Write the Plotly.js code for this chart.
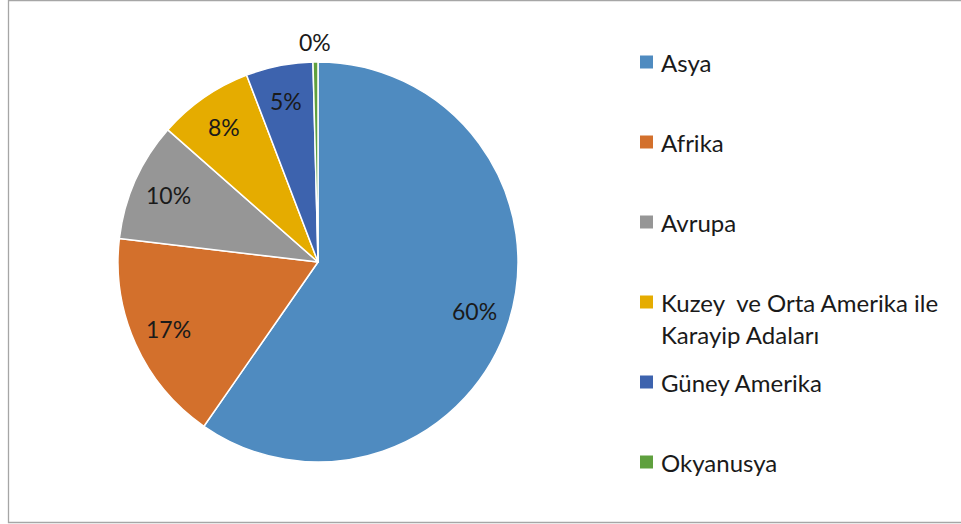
<!DOCTYPE html>
<html>
<head>
<meta charset="utf-8">
<script src="https://cdn.plot.ly/plotly-3.0.1.min.js"></script>
<style>
html,body{margin:0;padding:0;background:#fff;}
#chart{width:961px;height:524px;}
</style>
</head>
<body>
<div id="chart"></div>
<script>
const categories = ["Asya", "Afrika", "Avrupa", "Kuzey  ve Orta Amerika ile<br>Karayip Adaları", "Güney Amerika", "Okyanusya"];
const shares = [59.6, 17.2, 9.6, 7.7, 5.4, 0.4];
const colors = ["#4F8BC0", "#D3702C", "#969696", "#E5AC00", "#3D63AE", "#5FA03E"];
const labelOutside = [false, false, false, false, false, true];

const W = 961, H = 524;
const fontFam = "Lato, 'Open Sans', sans-serif";
const pieCx = 318, pieCy = 262, pieR = 200;

const trace = {
  type: "pie",
  labels: categories,
  values: shares,
  sort: false,
  direction: "clockwise",
  rotation: 0,
  marker: { colors: colors, line: { color: "#FFFFFF", width: 1.5 } },
  textinfo: "none",
  showlegend: false,
  hoverinfo: "label+percent",
  domain: { x: [(pieCx - pieR) / W, (pieCx + pieR) / W], y: [(H - pieCy - pieR) / H, (H - pieCy + pieR) / H] }
};

const shapes = [{
  type: "rect", xref: "paper", yref: "paper",
  x0: 8.5 / W, x1: 1.2, y0: 1.5 / H, y1: 1 - 0.5 / H,
  line: { color: "#A6A6A6", width: 1.3 }, fillcolor: "rgba(0,0,0,0)"
}];
const annotations = [];

// data labels (percent), placed Office-style along each slice's mid-angle
const total = shares.reduce((a, b) => a + b, 0);
let cum = 0;
shares.forEach((v, i) => {
  const frac = v / total;
  const mid = (cum + frac / 2) * 2 * Math.PI;
  cum += frac;
  const r = pieR * (labelOutside[i] ? 1.1 : 0.82);
  const px = pieCx + r * Math.sin(mid);
  const py = pieCy - r * Math.cos(mid);
  annotations.push({
    xref: "paper", yref: "paper", x: px / W, y: 1 - py / H,
    xanchor: "center", yanchor: "middle", showarrow: false,
    text: Math.round(frac * 100) + "%",
    font: { family: fontFam, size: 23, color: "#1a1a1a" }
  });
});

// legend built from categories/colors
const legX = 640, legTextX = 659, legY0 = 62, legStep = 80, sq = 13, lineGap = 32;
categories.forEach((c, i) => {
  const cy = legY0 + i * legStep;
  shapes.push({
    type: "rect", xref: "paper", yref: "paper",
    x0: legX / W, x1: (legX + sq) / W,
    y0: 1 - (cy + sq / 2) / H, y1: 1 - (cy - sq / 2) / H,
    line: { width: 0 }, fillcolor: colors[i]
  });
  c.split("<br>").forEach((ln, j) => {
    annotations.push({
      xref: "paper", yref: "paper",
      x: legTextX / W, y: 1 - (cy + j * lineGap) / H,
      xanchor: "left", yanchor: "middle",
      text: ln, showarrow: false,
      font: { family: fontFam, size: 24, color: "#1a1a1a" }
    });
  });
});

const layout = {
  width: W, height: H,
  margin: { l: 0, r: 0, t: 0, b: 0 },
  paper_bgcolor: "#FFFFFF",
  showlegend: false,
  shapes: shapes,
  annotations: annotations
};

Plotly.newPlot("chart", [trace], layout, { displayModeBar: false, staticPlot: true });
</script>
</body>
</html>
